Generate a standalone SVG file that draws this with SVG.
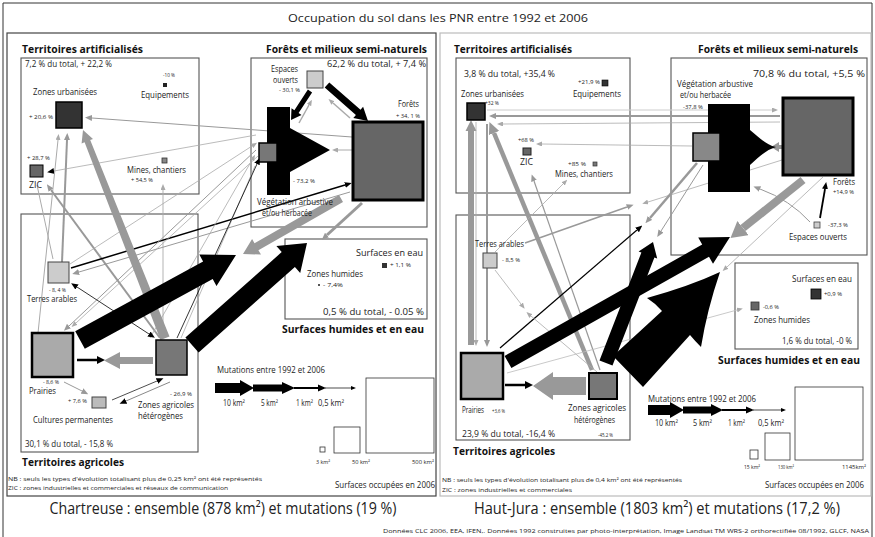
<svg xmlns="http://www.w3.org/2000/svg" width="875" height="537" viewBox="0 0 875 537">
<defs>
<style>
text{font-family:"Open Sans","Liberation Sans",sans-serif;fill:#222}
.hd{font-size:11px;font-weight:bold;fill:#111}
.lb{font-size:8.5px}
.sm{font-size:5.5px}
.tn{font-size:6px}
.big{font-size:16px}
.ttl{font-size:11px}
.box{fill:none;stroke:#555;stroke-width:1.1}
.k{fill:#000}
.g{fill:#999}
.lg{fill:none;stroke:#999}
.ll{fill:none;stroke:#aaa}
.lk{fill:none;stroke:#000}
</style>
<marker id="ab" viewBox="0 0 7 6" markerWidth="7" markerHeight="6" refX="0" refY="3" orient="auto" markerUnits="userSpaceOnUse"><path d="M0,0 L7,3 L0,6 z" fill="#000"/></marker>
<marker id="abs" viewBox="0 0 7 6" markerWidth="7" markerHeight="6" refX="0" refY="3" orient="auto-start-reverse" markerUnits="userSpaceOnUse"><path d="M0,0 L7,3 L0,6 z" fill="#000"/></marker>
<marker id="abk" viewBox="0 0 8 8" markerWidth="8" markerHeight="8" refX="0" refY="4" orient="auto" markerUnits="userSpaceOnUse"><path d="M0,0 L8,4 L0,8 z" fill="#000"/></marker>
<marker id="ag" viewBox="0 0 7 6" markerWidth="7" markerHeight="6" refX="0" refY="3" orient="auto" markerUnits="userSpaceOnUse"><path d="M0,0 L7,3 L0,6 z" fill="#999"/></marker>
<marker id="al" viewBox="0 0 6 5" markerWidth="6" markerHeight="5" refX="0" refY="2.5" orient="auto" markerUnits="userSpaceOnUse"><path d="M0,0 L6,2.5 L0,5 z" fill="#aaa"/></marker>
<marker id="agb" viewBox="0 0 12 11" markerWidth="12" markerHeight="11" refX="0" refY="5.5" orient="auto" markerUnits="userSpaceOnUse"><path d="M0,0 L12,5.5 L0,11 z" fill="#999"/></marker>
<marker id="agx" viewBox="0 0 16 18" markerWidth="16" markerHeight="18" refX="0" refY="9" orient="auto" markerUnits="userSpaceOnUse"><path d="M0,0 L16,9 L0,18 z" fill="#999"/></marker>
</defs>
<rect width="875" height="537" fill="#fff"/>

<g id="frame">
<path d="M3,540 V3 H872 V540" fill="none" stroke="#333" stroke-width="1"/>
<text class="ttl" x="438" y="22" text-anchor="middle" textLength="300" lengthAdjust="spacingAndGlyphs">Occupation du sol dans les PNR entre 1992 et 2006</text>
<rect x="7" y="33" width="429" height="463" fill="none" stroke="#444" stroke-width="1.2"/>
<rect x="440" y="33" width="431" height="463" fill="none" stroke="#bbb" stroke-width="1.2"/>
<text class="big" x="223" y="514" text-anchor="middle" textLength="347" lengthAdjust="spacingAndGlyphs">Chartreuse : ensemble (878 km²) et mutations (19 %)</text>
<text class="big" x="657" y="514" text-anchor="middle" textLength="366" lengthAdjust="spacingAndGlyphs">Haut-Jura : ensemble (1803 km²) et mutations (17,2 %)</text>
<text class="tn" x="869" y="533" text-anchor="end" textLength="486" lengthAdjust="spacingAndGlyphs">Données CLC 2006, EEA, IFEN,. Données 1992 construites par photo-interprétation, Image Landsat TM WRS-2 orthorectifiée 08/1992, GLCF, NASA</text>
</g>

<!-- ===== LEFT PANEL: Chartreuse ===== -->
<g id="L-groups">
<text class="hd" x="22" y="53" textLength="121" lengthAdjust="spacingAndGlyphs">Territoires artificialisés</text>
<rect class="box" x="21" y="58" width="178" height="136"/>
<text class="lb" x="25" y="67" textLength="87" lengthAdjust="spacingAndGlyphs">7,2 % du total, + 22,2 %</text>
<text class="hd" x="266" y="53" textLength="161" lengthAdjust="spacingAndGlyphs">Forêts et milieux semi-naturels</text>
<rect class="box" x="251" y="58" width="176" height="169"/>
<text class="lb" x="327" y="67" textLength="99" lengthAdjust="spacingAndGlyphs">62,2 % du total, + 7,4 %</text>
<rect class="box" x="21" y="214" width="177" height="238"/>
<text class="lb" x="25" y="447" textLength="88" lengthAdjust="spacingAndGlyphs">30,1 % du total, - 15,8 %</text>
<text class="hd" x="22" y="466" textLength="102" lengthAdjust="spacingAndGlyphs">Territoires agricoles</text>
<rect class="box" x="285" y="239" width="142" height="80"/>
<text class="lb" x="323" y="315" textLength="101" lengthAdjust="spacingAndGlyphs">0,5 % du total, - 0.05 %</text>
<text class="hd" x="282" y="333" textLength="142" lengthAdjust="spacingAndGlyphs">Surfaces humides et en eau</text>
<text class="tn" x="8" y="481" textLength="254" lengthAdjust="spacingAndGlyphs">NB : seuls les types d'évolution totalisant plus de 0,25 km² ont été représentés</text>
<text class="tn" x="8" y="490" textLength="220" lengthAdjust="spacingAndGlyphs">ZIC : zones industrielles et commerciales et réseaux de communication</text>
</g>

<g id="L-connectors">
<line class="ll" x1="38" y1="333" x2="58" y2="140" stroke-width="1" marker-end="url(#al)"/>
<line class="lg" x1="62" y1="262" x2="67" y2="140" stroke-width="2" marker-end="url(#ag)"/>
<line class="ll" x1="37" y1="185" x2="53" y2="259" stroke-width="1"/>
<line class="lg" x1="160" y1="338" x2="51" y2="190" stroke-width="2" marker-end="url(#ag)"/>
<line class="ll" x1="163" y1="338" x2="163" y2="190" stroke-width="0.9" marker-end="url(#al)"/>
<line class="lg" x1="352" y1="137" x2="92" y2="118" stroke-width="1" marker-end="url(#ag)"/>
<line class="ll" x1="256" y1="135" x2="54" y2="171" stroke-width="0.8" marker-end="url(#ab)"/>
<line class="lk" x1="71" y1="268" x2="345" y2="185" stroke-width="1.5" marker-end="url(#ab)"/>
<line class="lg" x1="350" y1="192" x2="79" y2="272" stroke-width="1" marker-end="url(#ag)"/>
<line class="ll" x1="70" y1="264" x2="252" y2="146" stroke-width="0.8" marker-end="url(#al)"/>
<line class="lg" x1="256" y1="150" x2="69" y2="326" stroke-width="1" marker-end="url(#ag)"/>
<line class="ll" x1="258" y1="156" x2="76" y2="323" stroke-width="0.8" marker-end="url(#al)"/>
<line class="ll" x1="150" y1="338" x2="252" y2="160" stroke-width="0.8" marker-end="url(#al)"/>
<line class="ll" x1="181" y1="338" x2="255" y2="166" stroke-width="0.8"/>
<line class="lk" x1="177" y1="338" x2="257" y2="164" stroke-width="0.8" marker-end="url(#ab)"/>
<line class="lk" x1="77" y1="287" x2="149" y2="334" stroke-width="0.8" marker-start="url(#abs)" marker-end="url(#ab)"/>
<line class="lg" x1="64" y1="382" x2="82" y2="391" stroke-width="1" marker-end="url(#ag)"/>
<line class="lk" x1="112" y1="400" x2="157" y2="381" stroke-width="0.7" marker-end="url(#ab)"/>
<line stroke="#555" x1="170" y1="382" x2="126" y2="401" stroke-width="0.7" marker-end="url(#ab)"/>
<line class="lk" x1="77" y1="360" x2="97" y2="360" stroke-width="2.5" marker-end="url(#abk)"/>
<polygon class="g" points="153,357 120,357 120,352 104,360.5 120,369 120,364 153,364"/>
<polygon class="g" points="160.5,340 84.6,142.3 81.6,143.4 83,130 93,139 90.2,140.1 169.5,336.5"/>
<polygon class="k" points="307.9,89.6 294.4,110.2 291.5,108.3 291,120 301.5,114.9 298.6,113 312.1,92.4"/>
<polygon class="k" points="329.3,82.4 360.5,109.8 363.1,106.8 368,121 353.3,118 355.9,115 324.7,87.6"/>
<line class="ll" x1="299" y1="123" x2="309" y2="105" stroke-width="1.5" marker-end="url(#al)"/>
<line class="ll" x1="350" y1="118" x2="333" y2="103" stroke-width="1.5" marker-end="url(#al)"/>
<line class="ll" x1="352" y1="150" x2="338" y2="150" stroke-width="1" marker-end="url(#al)"/>
<polygon class="g" points="339,195 254.5,243.3 252.1,238.9 243,254 261,254.6 258.4,250.3 343,202"/>
<line class="lg" x1="362" y1="203" x2="327" y2="235" stroke-width="3" marker-end="url(#ag)"/>
<polygon class="k" points="75.2,331.2 203.1,261.5 199.3,254.5 236,255 216.5,286.1 212.7,279.1 84.8,348.8"/>
<polygon class="k" points="185.4,337.5 281.7,252.1 276.4,246.1 307,243 300.2,273.1 294.9,267.1 198.6,352.5"/>
</g>

<g id="L-zones-urbanisees">
<rect x="56" y="102" width="26" height="26" fill="#333" stroke="#000" stroke-width="1.5"/>
<text class="lb" x="33" y="95" textLength="64" lengthAdjust="spacingAndGlyphs">Zones urbanisées</text>
<text class="sm" x="29" y="119" textLength="24" lengthAdjust="spacingAndGlyphs">+ 20,6 %</text>
</g>
<g id="L-equipements">
<rect x="163" y="83" width="4" height="4" fill="#222"/>
<text class="sm" x="163" y="77" textLength="12" lengthAdjust="spacingAndGlyphs">-10 %</text>
<text class="lb" x="141" y="98" textLength="48" lengthAdjust="spacingAndGlyphs">Equipements</text>
</g>
<g id="L-zic">
<rect x="30" y="165" width="13" height="12" fill="#666" stroke="#000" stroke-width="1"/>
<text class="sm" x="27" y="160" textLength="23" lengthAdjust="spacingAndGlyphs">+ 28,7 %</text>
<text class="lb" x="29" y="188" textLength="13" lengthAdjust="spacingAndGlyphs">ZIC</text>
</g>
<g id="L-mines">
<rect x="162" y="158" width="5" height="5" fill="#888" stroke="#333" stroke-width="0.8"/>
<text class="lb" x="127" y="173" textLength="59" lengthAdjust="spacingAndGlyphs">Mines, chantiers</text>
<text class="sm" x="131" y="182" textLength="22" lengthAdjust="spacingAndGlyphs">+ 54,5 %</text>
</g>
<g id="L-espaces-ouverts">
<rect x="307" y="71" width="16" height="17" fill="#ccc" stroke="#444" stroke-width="1"/>
<text class="lb" x="271" y="72" textLength="27" lengthAdjust="spacingAndGlyphs">Espaces</text>
<text class="lb" x="273" y="83" textLength="25" lengthAdjust="spacingAndGlyphs">ouverts</text>
<text class="sm" x="279" y="92" textLength="21" lengthAdjust="spacingAndGlyphs">- 30,1 %</text>
</g>
<g id="L-forets">
<rect x="353" y="122" width="70" height="78" fill="#666" stroke="#000" stroke-width="3"/>
<text class="lb" x="398" y="107" textLength="21" lengthAdjust="spacingAndGlyphs">Forêts</text>
<text class="sm" x="396" y="118" textLength="24" lengthAdjust="spacingAndGlyphs">+ 34, 1 %</text>
</g>
<g id="L-vegetation">
<path d="M267,107 H290 V128 L330,150 L290,172 V195 H267 Z" fill="#000"/>
<rect x="259" y="143" width="18" height="19" fill="#777" stroke="#000" stroke-width="1.5"/>
<text class="sm" x="293" y="183" textLength="22" lengthAdjust="spacingAndGlyphs">- 73,2 %</text>
<text class="lb" x="257" y="205" textLength="76" lengthAdjust="spacingAndGlyphs">Végétation arbustive</text>
<text class="lb" x="262" y="216" textLength="50" lengthAdjust="spacingAndGlyphs">et/ou herbacée</text>
</g>
<g id="L-terres-arables">
<rect x="48" y="262" width="21" height="21" fill="#ccc" stroke="#444" stroke-width="1"/>
<text class="sm" x="49" y="292" textLength="17" lengthAdjust="spacingAndGlyphs">- 8, 4 %</text>
<text class="lb" x="27" y="302" textLength="50" lengthAdjust="spacingAndGlyphs">Terres arables</text>
</g>
<g id="L-prairies">
<rect x="32" y="333" width="41" height="44" fill="#aaa" stroke="#000" stroke-width="2.5"/>
<text class="sm" x="43" y="384" textLength="16" lengthAdjust="spacingAndGlyphs">- 8,6 %</text>
<text class="lb" x="29" y="394" textLength="27" lengthAdjust="spacingAndGlyphs">Prairies</text>
</g>
<g id="L-zones-agricoles">
<rect x="156" y="340" width="31" height="35" fill="#777" stroke="#000" stroke-width="1.5"/>
<text class="sm" x="170" y="396" textLength="22" lengthAdjust="spacingAndGlyphs">- 26,9 %</text>
<text class="lb" x="138" y="408" textLength="56" lengthAdjust="spacingAndGlyphs">Zones agricoles</text>
<text class="lb" x="138" y="419" textLength="45" lengthAdjust="spacingAndGlyphs">hétérogènes</text>
</g>
<g id="L-cultures">
<rect x="92" y="397" width="14" height="11" fill="#bbb" stroke="#444" stroke-width="1"/>
<text class="sm" x="68" y="403" textLength="19" lengthAdjust="spacingAndGlyphs">+ 7,6 %</text>
<text class="lb" x="33" y="423" textLength="80" lengthAdjust="spacingAndGlyphs">Cultures permanentes</text>
</g>
<g id="L-surfaces-eau">
<rect x="382" y="263" width="5" height="5" fill="#333"/>
<text class="lb" x="356" y="256" textLength="67" lengthAdjust="spacingAndGlyphs">Surfaces en eau</text>
<text class="sm" x="390" y="267" textLength="21" lengthAdjust="spacingAndGlyphs">+ 1,1 %</text>
</g>
<g id="L-zones-humides">
<rect x="318" y="284" width="2" height="2" fill="#555"/>
<text class="lb" x="307" y="277" textLength="56" lengthAdjust="spacingAndGlyphs">Zones humides</text>
<text class="sm" x="323" y="287" textLength="20" lengthAdjust="spacingAndGlyphs">- 7,4%</text>
</g>
<g id="L-legend">
<text class="lb" x="217" y="373" textLength="108" lengthAdjust="spacingAndGlyphs">Mutations entre 1992 et 2006</text>
<polygon class="k" points="215,383 240,383 240,380 254,388 240,396 240,393 215,393"/>
<polygon class="k" points="253,384.5 282,384.5 282,382 295,388 282,394 282,391.5 253,391.5"/>
<polygon class="k" points="294,387 318,387 318,384.5 326,388 318,391.5 318,389 294,389"/>
<line x1="325" y1="388" x2="351" y2="388" stroke="#000" stroke-width="0.7"/>
<polygon class="k" points="351,386 356,388 351,390"/>
<text class="lb" x="223" y="406" textLength="22" lengthAdjust="spacingAndGlyphs">10 km²</text>
<text class="lb" x="261" y="406" textLength="17" lengthAdjust="spacingAndGlyphs">5 km²</text>
<text class="lb" x="296" y="406" textLength="17" lengthAdjust="spacingAndGlyphs">1 km²</text>
<text class="lb" x="318" y="406" textLength="26" lengthAdjust="spacingAndGlyphs">0,5 km²</text>
<rect x="320" y="447" width="5" height="5" fill="#fff" stroke="#333" stroke-width="0.8"/>
<rect x="334" y="427" width="26" height="26" fill="#fff" stroke="#333" stroke-width="0.8"/>
<rect x="366" y="378" width="68" height="75" fill="#fff" stroke="#333" stroke-width="0.8"/>
<text class="sm" x="316" y="464" textLength="14" lengthAdjust="spacingAndGlyphs">3 km²</text>
<text class="sm" x="352" y="464" textLength="18" lengthAdjust="spacingAndGlyphs">50 km²</text>
<text class="sm" x="412" y="464" textLength="22" lengthAdjust="spacingAndGlyphs">500 km²</text>
<text class="lb" x="435" y="488" text-anchor="end" textLength="100" lengthAdjust="spacingAndGlyphs">Surfaces occupées en 2006</text>
</g>

<!-- ===== RIGHT PANEL: Haut-Jura ===== -->
<g id="R-groups">
<text class="hd" x="454" y="53" textLength="118" lengthAdjust="spacingAndGlyphs">Territoires artificialisés</text>
<rect class="box" x="456" y="58" width="174" height="135"/>
<text class="lb" x="464" y="77" textLength="91" lengthAdjust="spacingAndGlyphs">3,8 % du total, +35,4 %</text>
<text class="hd" x="698" y="53" textLength="160" lengthAdjust="spacingAndGlyphs">Forêts et milieux semi-naturels</text>
<rect class="box" x="671" y="58" width="196" height="197"/>
<text class="lb" x="753" y="77" textLength="112" lengthAdjust="spacingAndGlyphs">70,8 % du total, +5,5 %</text>
<rect class="box" x="456" y="215" width="174" height="225"/>
<text class="lb" x="462" y="437" textLength="93" lengthAdjust="spacingAndGlyphs">23,9 % du total, -16,4 %</text>
<text class="hd" x="453" y="455" textLength="102" lengthAdjust="spacingAndGlyphs">Territoires agricoles</text>
<rect class="box" x="735" y="263" width="123" height="86"/>
<text class="lb" x="782" y="344" textLength="70" lengthAdjust="spacingAndGlyphs">1,6 % du total, -0 %</text>
<text class="hd" x="718" y="364" textLength="142" lengthAdjust="spacingAndGlyphs">Surfaces humides et en eau</text>
<text class="tn" x="442" y="482" textLength="240" lengthAdjust="spacingAndGlyphs">NB : seuls les types d'évolution totalisant plus de 0,4 km² ont été représentés</text>
<text class="tn" x="442" y="492" textLength="130" lengthAdjust="spacingAndGlyphs">ZIC : zones industrielles et commerciales</text>
</g>

<g id="R-connectors">
<polygon class="g" points="468,345 468,131 465.5,131 471,120 476.5,131 474,131 474,345"/>
<line class="ll" x1="476" y1="122" x2="476" y2="340" stroke-width="0.8" marker-end="url(#al)"/>
<line class="lg" x1="487" y1="124" x2="487" y2="340" stroke-width="2" marker-end="url(#ag)"/>
<line class="lg" x1="592" y1="370" x2="494" y2="133" stroke-width="4.5" marker-end="url(#agb)"/>
<line class="lg" x1="600" y1="370" x2="534" y2="181" stroke-width="1.2" marker-end="url(#ag)"/>
<line class="ll" x1="495" y1="252" x2="563" y2="184" stroke-width="0.8" marker-end="url(#al)"/>
<line stroke="#ccc" x1="487" y1="110" x2="772" y2="110" stroke-width="1" marker-end="url(#al)"/>
<line class="lg" x1="780" y1="116" x2="496" y2="116" stroke-width="2" marker-end="url(#ag)"/>
<line class="ll" x1="780" y1="122" x2="503" y2="124" stroke-width="0.8" marker-end="url(#al)"/>
<line class="ll" x1="692" y1="146" x2="542" y2="144" stroke-width="0.8" marker-end="url(#al)"/>
<line class="ll" x1="782" y1="160" x2="648" y2="202" stroke-width="0.8" marker-end="url(#al)"/>
<line class="lg" x1="697" y1="163" x2="650" y2="218" stroke-width="2.5" marker-end="url(#ag)"/>
<line class="lg" x1="703" y1="165" x2="661" y2="231" stroke-width="1" marker-end="url(#ag)"/>
<line class="lk" x1="500" y1="348" x2="637" y2="230" stroke-width="1.2" marker-end="url(#ab)"/>
<line class="lk" x1="820" y1="218" x2="825" y2="189" stroke-width="1.8" marker-end="url(#ab)"/>
<path class="lg" d="M810,222 Q790,200 760,189" stroke-width="1" marker-end="url(#ag)"/>
<line class="lg" x1="803" y1="180" x2="743" y2="228" stroke-width="8" marker-end="url(#agx)"/>
<polygon class="g" points="783,145 779,145 779,142 771,147 779,152 779,149 783,149"/>
<line class="ll" x1="823" y1="177" x2="727" y2="267" stroke-width="0.8" marker-end="url(#al)"/>
<line class="lg" x1="525" y1="243" x2="627" y2="207" stroke-width="1.5" marker-end="url(#ag)"/>
<line class="ll" x1="495" y1="270" x2="521" y2="304" stroke-width="0.8" marker-end="url(#al)"/>
<line class="ll" x1="597" y1="372" x2="531" y2="316" stroke-width="0.8" marker-end="url(#al)"/>
<line stroke="#bbb" x1="507" y1="373" x2="737" y2="310" stroke-width="0.8" marker-end="url(#al)"/>
<line class="lk" x1="505" y1="385" x2="525" y2="385" stroke-width="2.5" marker-end="url(#abk)"/>
<polygon class="g" points="586,377 553,377 553,372 533,386 553,400 553,395 586,395"/>
<polygon class="k" points="504.6,355.9 702.2,244.6 698.2,237.6 730,237 713,263.8 709,256.8 511.4,368.1"/>
<polygon class="k" points="599.5,360.5 641.4,252.5 638.6,251.4 653,242 657.2,258.6 654.4,257.5 612.5,365.5"/>
<path class="k" d="M613,356 L662,311 Q655,303 647,298 Q690,286 720,272 Q707,310 701,347 Q695,341 690,335 L643,387 Z"/>
</g>

<g id="R-zones-urbanisees">
<rect x="467" y="103" width="18" height="17" fill="#333" stroke="#000" stroke-width="1.5"/>
<text class="lb" x="461" y="97" textLength="63" lengthAdjust="spacingAndGlyphs">Zones urbanisées</text>
<text class="sm" x="485" y="105" textLength="14" lengthAdjust="spacingAndGlyphs">+32 %</text>
</g>
<g id="R-equipements">
<rect x="602" y="80" width="6" height="6" fill="#333" stroke="#000" stroke-width="0.6"/>
<text class="sm" x="578" y="84" textLength="22" lengthAdjust="spacingAndGlyphs">+21,9 %</text>
<text class="lb" x="573" y="97" textLength="48" lengthAdjust="spacingAndGlyphs">Equipements</text>
</g>
<g id="R-zic">
<rect x="523" y="148" width="8" height="7" fill="#666" stroke="#222" stroke-width="1"/>
<text class="sm" x="518" y="142" textLength="16" lengthAdjust="spacingAndGlyphs">+68 %</text>
<text class="lb" x="520" y="165" textLength="13" lengthAdjust="spacingAndGlyphs">ZIC</text>
</g>
<g id="R-mines">
<rect x="593" y="162" width="4" height="4" fill="#777" stroke="#333" stroke-width="0.7"/>
<text class="sm" x="568" y="166" textLength="18" lengthAdjust="spacingAndGlyphs">+85 %</text>
<text class="lb" x="555" y="177" textLength="58" lengthAdjust="spacingAndGlyphs">Mines, chantiers</text>
</g>
<g id="R-vegetation">
<path d="M708,104 H750 V130 C760,138 766,145 776,147 C766,150 760,156 750,165 V192 H708 Z" fill="#000"/>
<rect x="693" y="133" width="27" height="28" fill="#888" stroke="#000" stroke-width="1.5"/>
<text class="lb" x="677" y="87" textLength="76" lengthAdjust="spacingAndGlyphs">Végétation arbustive</text>
<text class="lb" x="680" y="98" textLength="51" lengthAdjust="spacingAndGlyphs">et/ou herbacée</text>
<text class="sm" x="683" y="109" textLength="20" lengthAdjust="spacingAndGlyphs">-37,8 %</text>
</g>
<g id="R-forets">
<rect x="783" y="98" width="70" height="77" fill="#666" stroke="#000" stroke-width="3"/>
<text class="lb" x="833" y="185" textLength="22" lengthAdjust="spacingAndGlyphs">Forêts</text>
<text class="sm" x="833" y="194" textLength="21" lengthAdjust="spacingAndGlyphs">+14,9 %</text>
</g>
<g id="R-espaces-ouverts">
<rect x="814" y="222" width="6" height="6" fill="#ccc" stroke="#444" stroke-width="0.8"/>
<text class="sm" x="828" y="227" textLength="20" lengthAdjust="spacingAndGlyphs">-37,3 %</text>
<text class="lb" x="789" y="240" textLength="58" lengthAdjust="spacingAndGlyphs">Espaces ouverts</text>
</g>
<g id="R-terres-arables">
<rect x="483" y="253" width="14" height="15" fill="#ccc" stroke="#444" stroke-width="1"/>
<text class="lb" x="475" y="247" textLength="49" lengthAdjust="spacingAndGlyphs">Terres arables</text>
<text class="sm" x="502" y="262" textLength="18" lengthAdjust="spacingAndGlyphs">- 8,5 %</text>
</g>
<g id="R-prairies">
<rect x="461" y="353" width="42" height="46" fill="#aaa" stroke="#000" stroke-width="2.5"/>
<text class="lb" x="462" y="413" textLength="22" lengthAdjust="spacingAndGlyphs">Prairies</text>
<text class="sm" x="492" y="413" textLength="13" lengthAdjust="spacingAndGlyphs">+3,6 %</text>
</g>
<g id="R-zones-agricoles">
<rect x="589" y="373" width="28" height="26" fill="#777" stroke="#000" stroke-width="2"/>
<text class="lb" x="568" y="411" textLength="58" lengthAdjust="spacingAndGlyphs">Zones agricoles</text>
<text class="lb" x="574" y="423" textLength="41" lengthAdjust="spacingAndGlyphs">hétérogènes</text>
<text class="sm" x="598" y="437" textLength="15" lengthAdjust="spacingAndGlyphs">-45,2 %</text>
</g>
<g id="R-surfaces-eau">
<rect x="811" y="289" width="10" height="10" fill="#333" stroke="#000" stroke-width="0.8"/>
<text class="lb" x="792" y="282" textLength="60" lengthAdjust="spacingAndGlyphs">Surfaces en eau</text>
<text class="sm" x="824" y="296" textLength="18" lengthAdjust="spacingAndGlyphs">+0,9 %</text>
</g>
<g id="R-zones-humides">
<rect x="751" y="302" width="8" height="8" fill="#666" stroke="#333" stroke-width="0.8"/>
<text class="sm" x="763" y="309" textLength="16" lengthAdjust="spacingAndGlyphs">-0,6 %</text>
<text class="lb" x="754" y="323" textLength="56" lengthAdjust="spacingAndGlyphs">Zones humides</text>
</g>
<g id="R-legend">
<text class="lb" x="648" y="402" textLength="108" lengthAdjust="spacingAndGlyphs">Mutations entre 1992 et 2006</text>
<polygon class="k" points="648,405 670,405 670,402 684,410 670,418 670,415 648,415"/>
<polygon class="k" points="683,406.5 711,406.5 711,404 723,410 711,416 711,413.5 683,413.5"/>
<polygon class="k" points="722,409 746,409 746,406.5 754,410 746,413.5 746,411 722,411"/>
<line x1="753" y1="410" x2="781" y2="410" stroke="#000" stroke-width="0.7"/>
<polygon class="k" points="781,408 786,410 781,412"/>
<text class="lb" x="655" y="426" textLength="23" lengthAdjust="spacingAndGlyphs">10 km²</text>
<text class="lb" x="693" y="426" textLength="19" lengthAdjust="spacingAndGlyphs">5 km²</text>
<text class="lb" x="728" y="426" textLength="17" lengthAdjust="spacingAndGlyphs">1 km²</text>
<text class="lb" x="758" y="426" textLength="26" lengthAdjust="spacingAndGlyphs">0,5 km²</text>
<rect x="750" y="450" width="8" height="9" fill="#fff" stroke="#333" stroke-width="0.8"/>
<rect x="765" y="433" width="25" height="27" fill="#fff" stroke="#333" stroke-width="0.8"/>
<rect x="795" y="387" width="68" height="73" fill="#fff" stroke="#333" stroke-width="0.8"/>
<text class="sm" x="744" y="469" textLength="16" lengthAdjust="spacingAndGlyphs">15 km²</text>
<text class="sm" x="778" y="469" textLength="16" lengthAdjust="spacingAndGlyphs">130 km²</text>
<text class="sm" x="866" y="469" text-anchor="end" textLength="24" lengthAdjust="spacingAndGlyphs">1145km²</text>
<text class="lb" x="864" y="488" text-anchor="end" textLength="99" lengthAdjust="spacingAndGlyphs">Surfaces occupées en 2006</text>
</g>
</svg>
